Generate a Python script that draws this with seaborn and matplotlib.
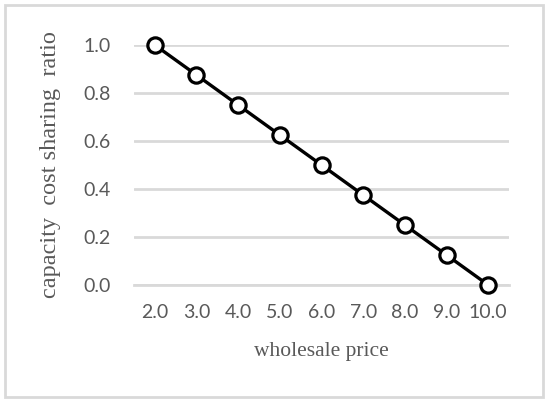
import pandas as pd
import matplotlib.pyplot as plt
import seaborn as sns
from matplotlib.patches import Rectangle

# Data
wholesale_price = [2.0, 3.0, 4.0, 5.0, 6.0, 7.0, 8.0, 9.0, 10.0]
sharing_ratio = [1.0, 0.875, 0.75, 0.625, 0.5, 0.375, 0.25, 0.125, 0.0]
y_ticks = [0.0, 0.2, 0.4, 0.6, 0.8, 1.0]

df = pd.DataFrame({"price": wholesale_price, "ratio": sharing_ratio})

sns.set_style("white")
text_grey = "#595959"
grid_grey = "#d9d9d9"

fig = plt.figure(figsize=(5.5, 4.07), dpi=100)
ax = fig.add_axes([0.2436, 0.2998, 0.6819, 0.5896])

sns.lineplot(data=df, x="price", y="ratio", ax=ax, color="black", linewidth=2.4,
             marker="o", markersize=11, markerfacecolor="white",
             markeredgecolor="black", markeredgewidth=2.3, zorder=3, clip_on=False)

ax.set_xlim(1.5, 10.5)
ax.set_ylim(0, 1.0)
ax.set_xticks(wholesale_price)
ax.set_xticklabels([f"{v:.1f}" for v in wholesale_price])
ax.set_yticks(y_ticks)
ax.set_yticklabels([f"{v:.1f}" for v in y_ticks])
ax.yaxis.grid(True, color=grid_grey, linewidth=2)
ax.set_axisbelow(True)
for s in ax.spines.values():
    s.set_visible(False)
ax.spines["bottom"].set_visible(True)
ax.spines["bottom"].set_color(grid_grey)
ax.spines["bottom"].set_linewidth(2)
ax.tick_params(length=0, labelsize=14, labelcolor=text_grey)
ax.tick_params(axis="x", pad=14)
ax.tick_params(axis="y", pad=17)
for lbl in ax.get_xticklabels() + ax.get_yticklabels():
    lbl.set_family("Lato")

ax.set_xlabel("wholesale price", family="Liberation Serif", fontsize=15.5,
              color=text_grey)
ax.set_ylabel("capacity  cost sharing  ratio", family="Liberation Serif",
              fontsize=17.5, color=text_grey)
ax.xaxis.set_label_coords(0.5, -0.2375)
ax.yaxis.set_label_coords(-0.195, 0.5)

# light grey frame around the whole chart
fig.patches.append(Rectangle((0.009, 0.024), 0.978, 0.963, transform=fig.transFigure,
                             fill=False, edgecolor=grid_grey, linewidth=2))

fig.savefig("out.png", dpi=100)
